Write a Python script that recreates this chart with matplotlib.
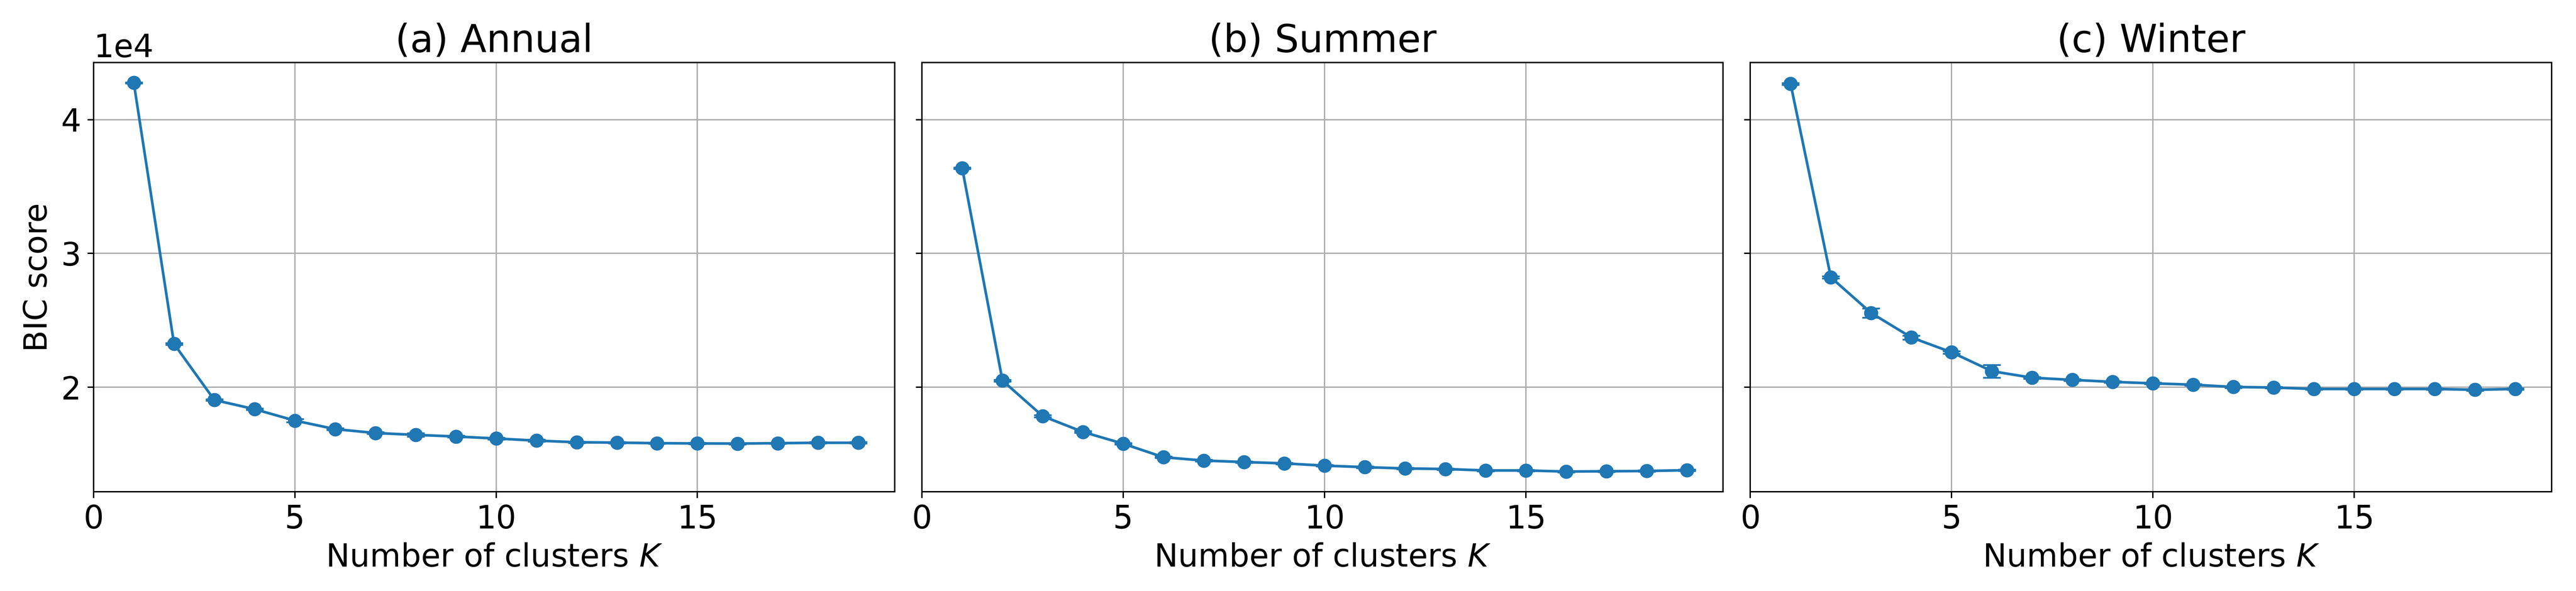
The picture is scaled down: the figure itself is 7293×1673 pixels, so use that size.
import numpy as np
import matplotlib
matplotlib.use("Agg")
import matplotlib.pyplot as plt
from matplotlib.ticker import MultipleLocator

# BIC score vs number of clusters, mean and spread over runs
K = np.arange(1, 20)

bic_annual = [42760, 23240, 19050, 18360, 17510, 16870, 16580, 16440, 16320, 16170,
              16010, 15890, 15860, 15820, 15800, 15790, 15820, 15850, 15850]
err_annual = [40, 60, 60, 50, 110, 60, 60, 140, 60, 60,
              80, 50, 50, 50, 50, 50, 50, 50, 50]

bic_summer = [36370, 20500, 17840, 16660, 15780, 14770, 14520, 14410, 14310, 14140,
              14030, 13930, 13890, 13780, 13780, 13700, 13720, 13740, 13800]
err_summer = [60, 60, 70, 60, 60, 50, 60, 50, 50, 50,
              60, 50, 50, 50, 50, 50, 50, 50, 50]

bic_winter = [42670, 28210, 25550, 23720, 22610, 21200, 20710, 20550, 20400, 20290,
              20190, 20020, 19980, 19870, 19870, 19870, 19870, 19810, 19870]
err_winter = [60, 80, 340, 150, 100, 480, 60, 60, 60, 60,
              60, 60, 60, 60, 60, 60, 60, 60, 60]

titles = ["(a) Annual", "(b) Summer", "(c) Winter"]
series = [(bic_annual, err_annual), (bic_summer, err_summer), (bic_winter, err_winter)]

plt.rcParams['font.size'] = 18

fig, axes = plt.subplots(1, 3, figsize=(7293 / 360, 1673 / 360), sharey=True)
fig.subplots_adjust(left=0.0363, right=0.9905, top=0.894, bottom=0.168, wspace=0.034)

for ax, title, (vals, errs) in zip(axes, titles, series):
    ax.errorbar(K, vals, yerr=errs, fmt='-o', color='tab:blue', ms=7, capsize=5)
    ax.set_title(title)
    ax.set_xlabel("Number of clusters $K$")
    ax.set_xlim(left=0)
    ax.xaxis.set_major_locator(MultipleLocator(5))
    ax.grid(True)

axes[0].set_ylabel("BIC score")
axes[0].ticklabel_format(axis='y', style='sci', scilimits=(0, 0))

fig.savefig("out.png", dpi=360)
